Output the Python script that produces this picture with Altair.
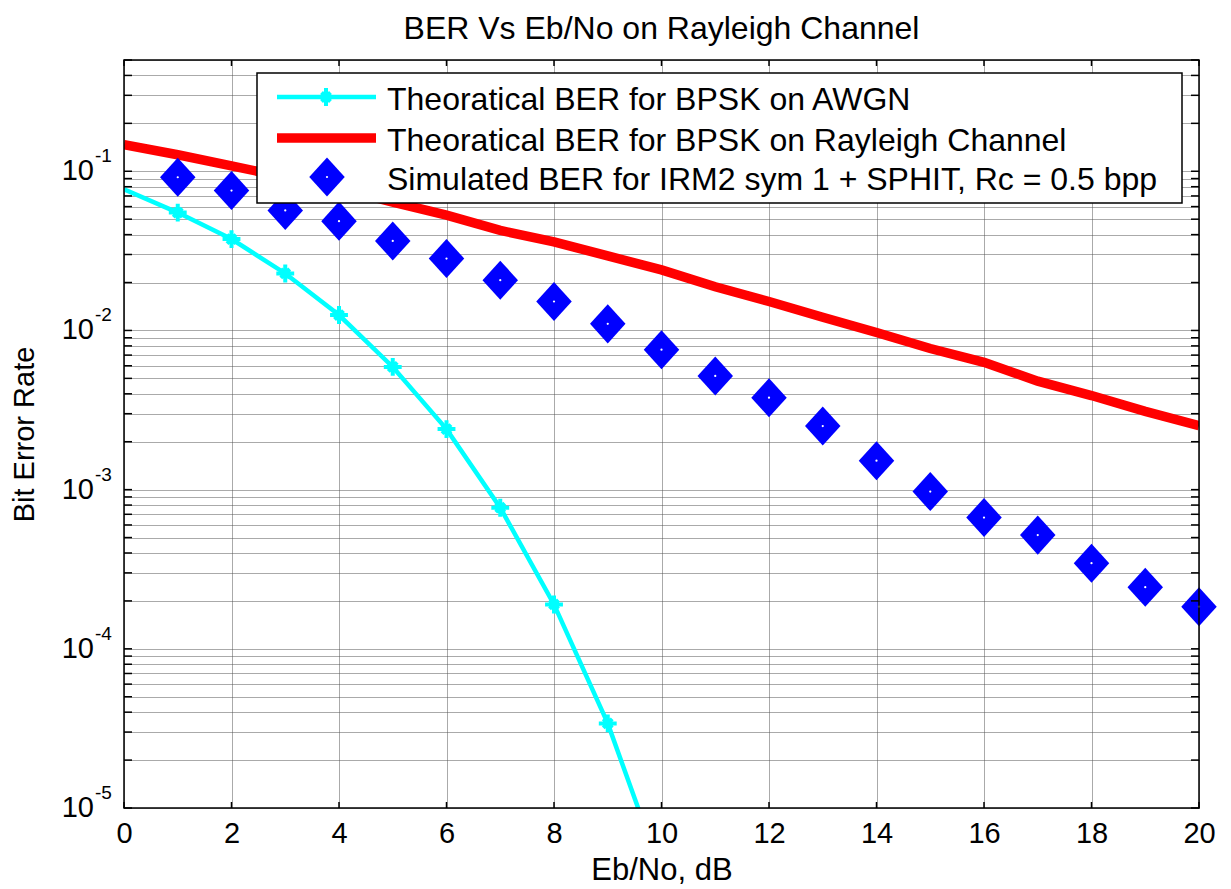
import altair as alt
import pandas as pd

FONT = "Liberation Sans"

# ---------------- data ----------------
snr_awgn = [0, 1, 2, 3, 4, 5, 6, 7, 8, 9, 10]
ber_awgn = [0.077, 0.055, 0.0375, 0.0228, 0.0125, 0.0059, 0.0024, 0.00077, 0.00019, 3.4e-5, 3.9e-6]

snr_ray = list(range(0, 21))
ber_ray = [0.147, 0.127, 0.108, 0.092, 0.078, 0.064, 0.053, 0.0425, 0.036, 0.0294, 0.024,
           0.0188, 0.0152, 0.0121, 0.0097, 0.0077, 0.0063, 0.0048, 0.0039, 0.0031, 0.00252]

snr_sim = list(range(1, 21))
ber_sim = [0.0917, 0.0757, 0.0567, 0.0486, 0.0365, 0.0283, 0.0207, 0.0152, 0.0110, 0.00757,
           0.00518, 0.00378, 0.00251, 0.00152, 0.000972, 0.000668, 0.000518, 0.000345, 0.000244, 0.000184]

series_names = [
    "Theoratical BER for BPSK on AWGN",
    "Theoratical BER for BPSK on Rayleigh Channel",
    "Simulated BER for IRM2 sym 1 + SPHIT, Rc = 0.5 bpp",
]

title_text = "BER Vs Eb/No on Rayleigh Channel"
x_title = "Eb/No, dB"
y_title = "Bit Error Rate"

x_ticks = [0, 2, 4, 6, 8, 10, 12, 14, 16, 18, 20]
decades = [1e-1, 1e-2, 1e-3, 1e-4, 1e-5]
exponents = ["-1", "-2", "-3", "-4", "-5"]
y_grid = [m * 10.0 ** k for k in range(-5, -1) for m in range(1, 10)] + [0.1, 0.2, 0.3, 0.4, 0.5]

# ---------------- layout ----------------
W, H = 1075, 748

df_awgn = pd.DataFrame({"x": snr_awgn, "y": ber_awgn})
df_ray = pd.DataFrame({"x": snr_ray, "y": ber_ray})
df_sim = pd.DataFrame({"x": snr_sim, "y": ber_sim})
df_xt = pd.DataFrame({"x": x_ticks})
df_yt = pd.DataFrame({"y": y_grid})
df_dec = pd.DataFrame({"y": decades, "e": exponents})
one = pd.DataFrame({"a": [0]})

xs = alt.Scale(domain=[0, 20], nice=False, zero=False)
ys = alt.Scale(type="log", domain=[1e-5, 0.5], nice=False)

x_axis = alt.Axis(values=x_ticks, grid=True, gridDash=[1, 1], gridColor="#555555", gridWidth=1,
                  ticks=False, domain=False, labelFontSize=29, labelFont=FONT, labelColor="black",
                  labelPadding=11, labelFlush=False, labelOverlap=False, format="d",
                  title=x_title, titleFont=FONT, titleFontSize=31, titleFontWeight="normal",
                  titleColor="black", titleX=W / 2, titleY=62, titleAlign="center",
                  titleBaseline="middle")
y_axis = alt.Axis(values=y_grid, grid=True, gridDash=[1, 1], gridColor="#555555", gridWidth=1,
                  ticks=False, domain=False, labels=False,
                  title=y_title, titleFont=FONT, titleFontSize=29, titleFontWeight="normal",
                  titleColor="black", titleX=-100, titleY=H / 2, titleAngle=270,
                  titleAlign="center", titleBaseline="middle")

X = alt.X("x:Q", scale=xs, axis=x_axis)
Y = alt.Y("y:Q", scale=ys, axis=y_axis)

ASTERISK = "M-1,0L1,0M0,-1L0,1M-0.5,-0.5L0.5,0.5M-0.5,0.5L0.5,-0.5"
DIAMOND = "M0,-1.1L1,0L0,1.1L-1,0Z"
CYAN, RED, BLUE = "#00ffff", "#ff0000", "#0000ff"

red_line = alt.Chart(df_ray).mark_line(color=RED, strokeWidth=9.5, clip=True).encode(x=X, y=Y)
cyan_line = alt.Chart(df_awgn).mark_line(color=CYAN, strokeWidth=4.5, clip=True).encode(x=X, y=Y)
cyan_pts = alt.Chart(df_awgn).transform_filter("datum.x >= 1").mark_point(
    shape=ASTERISK, filled=False, color=CYAN, strokeWidth=4, size=320, opacity=1, clip=True
).encode(x=X, y=Y)
diamonds = alt.Chart(df_sim).mark_point(
    shape=DIAMOND, filled=True, color=BLUE, size=1260, opacity=1, strokeWidth=0
).encode(x=X, y=Y)
dots = alt.Chart(df_sim).mark_point(
    shape="circle", filled=True, color="white", size=5, opacity=1, strokeWidth=0
).encode(x=X, y=Y)

# ---------------- title as text above the plot ----------------
title_mark = alt.Chart(one).mark_text(
    align="center", baseline="alphabetic", font=FONT, fontSize=32, color="black"
).encode(x=alt.value(W / 2), y=alt.value(-21), text=alt.value(title_text))

# ---------------- legend ----------------
leg_box = alt.Chart(one).mark_rect(fill="white", stroke="black", strokeWidth=1.5).encode(
    x=alt.value(133), x2=alt.value(1058), y=alt.value(13), y2=alt.value(143))
leg_cyan = alt.Chart(one).mark_rule(color=CYAN, strokeWidth=4.5).encode(
    x=alt.value(153), x2=alt.value(252), y=alt.value(37))
leg_cyan_pt = alt.Chart(one).mark_point(
    shape=ASTERISK, filled=False, color=CYAN, strokeWidth=4, size=320, opacity=1
).encode(x=alt.value(202), y=alt.value(37))
leg_red = alt.Chart(one).mark_rule(color=RED, strokeWidth=9.5).encode(
    x=alt.value(153), x2=alt.value(252), y=alt.value(78))
leg_dia = alt.Chart(one).mark_point(
    shape=DIAMOND, filled=True, color=BLUE, size=1260, opacity=1, strokeWidth=0
).encode(x=alt.value(203), y=alt.value(117))
leg_dot = alt.Chart(one).mark_point(
    shape="circle", filled=True, color="white", size=5, opacity=1, strokeWidth=0
).encode(x=alt.value(203), y=alt.value(117))
leg_texts = [
    alt.Chart(one).mark_text(align="left", baseline="middle", font=FONT, fontSize=32, color="black").encode(
        x=alt.value(263), y=alt.value(ty), text=alt.value(name))
    for name, ty in zip(series_names, [40, 81, 120])
]

# ---------------- axes box, inward ticks, y labels ----------------
box = alt.Chart(one).mark_rect(fill="white", fillOpacity=0, stroke="black", strokeWidth=1.5).encode(
    x=alt.value(0), x2=alt.value(W), y=alt.value(0), y2=alt.value(H))
xt_bot = alt.Chart(df_xt).mark_rule(color="black", strokeWidth=1.5).encode(
    x=X, y=alt.value(H), y2=alt.value(H - 6))
xt_top = alt.Chart(df_xt).mark_rule(color="black", strokeWidth=1.5).encode(
    x=X, y=alt.value(0), y2=alt.value(6))
yt_left = alt.Chart(df_yt).mark_rule(color="black", strokeWidth=1.5).encode(
    y=Y, x=alt.value(0), x2=alt.value(8))
yt_right = alt.Chart(df_yt).mark_rule(color="black", strokeWidth=1.5).encode(
    y=Y, x=alt.value(W - 8), x2=alt.value(W))
ylab_10 = alt.Chart(df_dec).mark_text(align="right", baseline="middle", font=FONT, fontSize=29,
                                       color="black").encode(y=Y, x=alt.value(-30), text=alt.value("10"))
ylab_exp = alt.Chart(df_dec).mark_text(align="left", baseline="middle", font=FONT, fontSize=19,
                                        color="black", dy=-15).encode(y=Y, x=alt.value(-29), text="e:N")

chart = alt.layer(
    red_line, cyan_line, cyan_pts, diamonds, dots,
    leg_box, leg_cyan, leg_cyan_pt, leg_red, leg_dia, leg_dot, *leg_texts,
    box, xt_bot, xt_top, yt_left, yt_right, ylab_10, ylab_exp, title_mark,
).properties(
    width=W, height=H,
    autosize=alt.AutoSizeParams(type="none"),
    padding={"left": 124, "top": 60, "right": 32, "bottom": 81},
    background="white",
).configure_view(strokeOpacity=0)

chart.save("out.html", embed_options={"renderer": "svg", "actions": False})
